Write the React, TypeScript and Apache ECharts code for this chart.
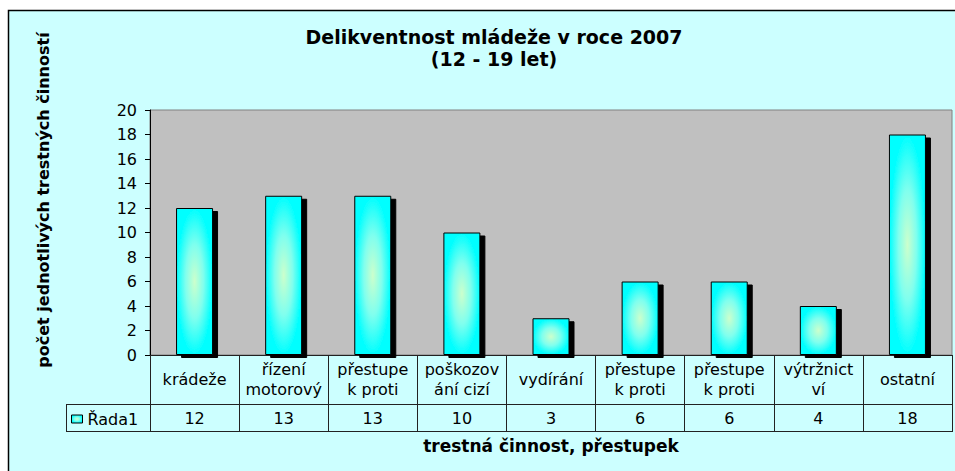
import React, { useEffect, useRef } from "react";
import * as echarts from "echarts";

const categories = [
  "krádeže",
  "řízení\nmotorový",
  "přestupe\nk proti",
  "poškozov\nání cizí",
  "vydírání",
  "přestupe\nk proti",
  "přestupe\nk proti",
  "výtržnict\nví",
  "ostatní",
];
const values = [12, 13, 13, 10, 3, 6, 6, 4, 18];
const seriesName = "Řada1";
const yMin = 0;
const yMax = 20;
const yInterval = 2;

const titleText = "Delikventnost mládeže v roce 2007\n(12 - 19 let)";
const yTitle = "počet jednotlivých trestných činností";
const xTitle = "trestná činnost, přestupek";

const FONT = "DejaVu Sans";

export default function App() {
  const ref = useRef<HTMLDivElement>(null);
  useEffect(() => {
    if (!ref.current) return;
    const chart = echarts.init(ref.current, null, { renderer: "svg" });
    const barFill = new echarts.graphic.RadialGradient(0.5, 0.5, 0.5, [
      { offset: 0, color: "#CCFFCC" },
      { offset: 0.5, color: "#80FFEE" },
      { offset: 1, color: "#00FFFF" },
    ]);
    const lineColor = "#222";
    chart.setOption({
      animation: false,
      backgroundColor: "#ffffff",
      textStyle: { fontFamily: FONT },
      title: {
        text: titleText,
        left: 494,
        top: 26,
        textAlign: "center",
        padding: 0,
        textStyle: {
          fontFamily: FONT,
          fontWeight: "bold",
          fontSize: 19,
          lineHeight: 22,
          color: "#000",
        },
      },
      legend: {
        data: [{ name: seriesName, icon: "rect" }],
        left: 71,
        top: 411,
        padding: 0,
        itemWidth: 11,
        itemHeight: 8,
        itemGap: 0,
        textStyle: { fontFamily: FONT, fontSize: 16, color: "#000" },
        itemStyle: {
          borderColor: "#000",
          borderWidth: 1,
          shadowBlur: 0,
          shadowOffsetX: 0,
          shadowOffsetY: 0,
          shadowColor: "rgba(0,0,0,0)",
        },
      },
      grid: {
        left: 150,
        right: 3,
        top: 110,
        bottom: 116,
        show: true,
        backgroundColor: "#C0C0C0",
        borderColor: "#808080",
        borderWidth: 1,
        containLabel: false,
      },
      xAxis: [
        {
          type: "category",
          data: categories,
          position: "bottom",
          name: xTitle,
          nameLocation: "middle",
          nameGap: 82,
          nameTextStyle: {
            fontFamily: FONT,
            fontWeight: "bold",
            fontSize: 17,
            color: "#000",
          },
          axisLine: { show: true, lineStyle: { color: lineColor, width: 1 } },
          axisTick: {
            show: true,
            interval: 0,
            length: 49,
            lineStyle: { color: lineColor, width: 1 },
          },
          axisLabel: {
            interval: 0,
            margin: 24,
            verticalAlign: "middle",
            fontFamily: FONT,
            fontSize: 16,
            lineHeight: 20,
            color: "#000",
          },
          splitLine: { show: false },
        },
        {
          type: "category",
          data: values.map((v) => String(v)),
          position: "bottom",
          offset: 49,
          axisLine: { show: true, lineStyle: { color: lineColor, width: 1 } },
          axisTick: {
            show: true,
            interval: 0,
            length: 27,
            lineStyle: { color: lineColor, width: 1 },
          },
          axisLabel: {
            interval: 0,
            margin: 14,
            verticalAlign: "middle",
            fontFamily: FONT,
            fontSize: 16,
            color: "#000",
          },
          splitLine: { show: false },
        },
      ],
      yAxis: {
        type: "value",
        min: yMin,
        max: yMax,
        interval: yInterval,
        axisLine: { show: true, lineStyle: { color: "#000", width: 1 } },
        axisTick: { show: true, length: 5, lineStyle: { color: "#000" } },
        axisLabel: {
          margin: 13,
          fontFamily: FONT,
          fontSize: 16,
          color: "#000",
        },
        splitLine: { show: false },
      },
      series: [
        {
          name: seriesName,
          type: "bar",
          xAxisIndex: 0,
          data: values,
          barWidth: 37,
          itemStyle: {
            color: barFill,
            borderColor: "#000",
            borderWidth: 1,
            shadowColor: "#000",
            shadowBlur: 0,
            shadowOffsetX: 5,
            shadowOffsetY: 3,
          },
        },
      ],
      graphic: [
        {
          type: "rect",
          z: -10,
          silent: true,
          shape: { x: 8.5, y: 10.5, width: 960, height: 470 },
          style: { fill: "#CCFFFF", stroke: "#000", lineWidth: 1.5 },
        },
        {
          type: "text",
          x: 43,
          y: 200,
          rotation: Math.PI / 2,
          silent: true,
          style: {
            text: yTitle,
            fontFamily: FONT,
            fontWeight: "bold",
            fontSize: 16,
            fill: "#000",
            align: "center",
            verticalAlign: "middle",
          },
        },
        {
          type: "line",
          silent: true,
          shape: { x1: 66, y1: 404.5, x2: 150, y2: 404.5 },
          style: { stroke: lineColor, lineWidth: 1 },
        },
        {
          type: "line",
          silent: true,
          shape: { x1: 66.5, y1: 404, x2: 66.5, y2: 431 },
          style: { stroke: lineColor, lineWidth: 1 },
        },
        {
          type: "line",
          silent: true,
          shape: { x1: 66, y1: 431.5, x2: 953, y2: 431.5 },
          style: { stroke: lineColor, lineWidth: 1 },
        },
      ],
    });
    return () => chart.dispose();
  }, []);
  return (
    <div
      ref={ref}
      style={{ position: "absolute", left: 0, top: 0, width: 955, height: 471 }}
    />
  );
}
